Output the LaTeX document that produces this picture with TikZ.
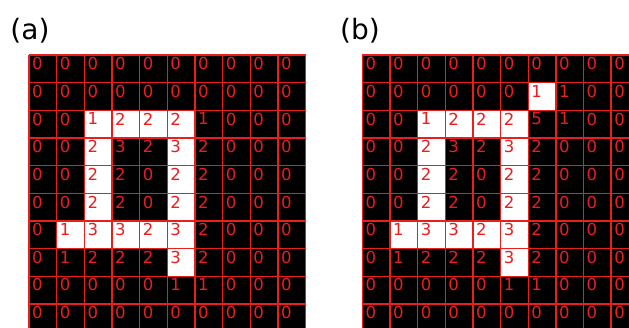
\documentclass[tikz,border=0pt]{standalone}
\usepackage{fontspec}
\setmainfont{DejaVu Sans}
\definecolor{gridred}{RGB}{235,30,30}
\newcommand\mygrid[4]{%
  \fill[black] (#1,55) rectangle ++(276.5,276.5);
  \foreach \rr/\cc in {#3} \fill[white] (#1+\cc*27.65,55+\rr*27.65) rectangle ++(27.65,27.65);
  \foreach \i in {0,...,10} {
    \draw[gridline] (#1+\i*27.65,55) -- ++(0,276.5);
    \draw[gridline] (#1,55+\i*27.65) -- ++(276.5,0);
  }
  \foreach \row [count=\r from 0] in {#4} {
    \foreach \v [count=\c from 0] in \row {
      \node[digit] (#2-\r-\c) at (#1+\c*27.65+3,55+\r*27.65+2.3) {\v};
    }
  }
}
\begin{document}
\begin{tikzpicture}[x=1bp,y=-1bp,
  digit/.style={anchor=north west,inner sep=0pt,text=gridred,font=\fontsize{16.5bp}{18bp}\selectfont},
  panellabel/.style={anchor=base,inner sep=0pt,font=\fontsize{28bp}{32bp}\selectfont},
  gridline/.style={draw=gridred,line width=1.4bp}]
\useasboundingbox (0,0) rectangle (629,327);
\fill[white] (0,0) rectangle (629,327);
\clip (0,0) rectangle (629,327);
\node[panellabel] (la) at (30,39.6) {(a)};
\node[panellabel] (lb) at (360,39.6) {(b)};
\mygrid{29}{a}{2/2,2/3,2/4,2/5,3/2,3/5,4/2,4/5,5/2,5/5,6/1,6/2,6/3,6/4,6/5,7/5}{%
{0,0,0,0,0,0,0,0,0,0},
{0,0,0,0,0,0,0,0,0,0},
{0,0,1,2,2,2,1,0,0,0},
{0,0,2,3,2,3,2,0,0,0},
{0,0,2,2,0,2,2,0,0,0},
{0,0,2,2,0,2,2,0,0,0},
{0,1,3,3,2,3,2,0,0,0},
{0,1,2,2,2,3,2,0,0,0},
{0,0,0,0,0,1,1,0,0,0},
{0,0,0,0,0,0,0,0,0,0}}
\mygrid{362.3}{b}{1/6,2/2,2/3,2/4,2/5,3/2,3/5,4/2,4/5,5/2,5/5,6/1,6/2,6/3,6/4,6/5,7/5}{%
{0,0,0,0,0,0,0,0,0,0},
{0,0,0,0,0,0,1,1,0,0},
{0,0,1,2,2,2,5,1,0,0},
{0,0,2,3,2,3,2,0,0,0},
{0,0,2,2,0,2,2,0,0,0},
{0,0,2,2,0,2,2,0,0,0},
{0,1,3,3,2,3,2,0,0,0},
{0,1,2,2,2,3,2,0,0,0},
{0,0,0,0,0,1,1,0,0,0},
{0,0,0,0,0,0,0,0,0,0}}
\end{tikzpicture}
\end{document}
